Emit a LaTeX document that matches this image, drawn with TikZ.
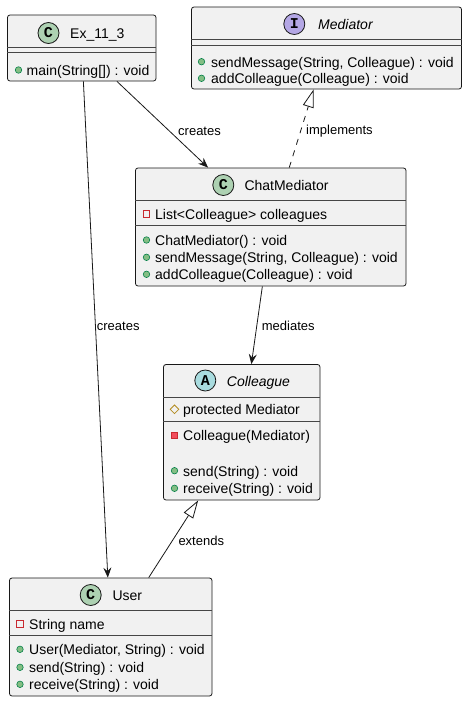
\documentclass[tikz,border=0pt]{standalone}
\usepackage{fontspec}
\setmainfont{Liberation Sans}
\newfontfamily\badgefont{Liberation Mono}
\usetikzlibrary{arrows.meta,positioning,calc,shapes.geometric}
\definecolor{boxfill}{HTML}{F1F1F1}
\definecolor{boxline}{HTML}{181818}
\definecolor{classicon}{HTML}{ADD1B2}
\definecolor{ifaceicon}{HTML}{B4A7E5}
\definecolor{absicon}{HTML}{A9DCDF}
\definecolor{pubfill}{HTML}{84BE84}
\definecolor{publine}{HTML}{038048}
\definecolor{privline}{HTML}{C82930}
\definecolor{privfill}{HTML}{F24D5C}
\definecolor{protline}{HTML}{B38D22}

\begin{document}
\begin{tikzpicture}[x=1pt,y=-1pt,font=\fontsize{14}{16}\selectfont,
  umlclass/.style={draw=boxline,fill=boxfill,rounded corners=2.5pt,line width=0.8pt,inner sep=0pt},
  sepline/.style={draw=boxline!80,line width=0.7pt},
  badge/.style={circle,draw=boxline,line width=0.8pt,minimum size=21pt,inner sep=0pt,font=\badgefont\bfseries\fontsize{15}{15}\selectfont},
  member/.style={anchor=west,inner sep=0pt,text height=12pt,text depth=1pt},
  abstractname/.style={member,font=\fontsize{14}{16}\selectfont\itshape},
  pub/.style={circle,draw=publine,fill=pubfill,minimum size=6.5pt,inner sep=0pt,line width=0.6pt},
  privfield/.style={rectangle,draw=privline,minimum size=6.5pt,inner sep=0pt,line width=0.8pt},
  privmeth/.style={rectangle,draw=privline,fill=privfill,minimum size=6.5pt,inner sep=0pt,line width=0.6pt},
  protfield/.style={diamond,draw=protline,minimum size=9pt,inner sep=0pt,line width=0.8pt},
  link/.style={draw=boxline,line width=0.8pt},
  lbl/.style={anchor=west,inner sep=0pt,text height=11pt,text depth=1pt,font=\fontsize{13}{15}\selectfont}]

  \fill[white] (0,0) rectangle (468,702);
  \useasboundingbox (0,0) rectangle (468,702);

  % class boxes
  \node[umlclass,minimum width=148.5pt,minimum height=66pt] (ex) at (81.75,48) {};
  \node[umlclass,minimum width=270pt,minimum height=82pt] (med) at (326.5,48) {};
  \node[umlclass,minimum width=270.5pt,minimum height=118pt] (chat) at (270.75,227) {};
  \node[umlclass,minimum width=156.5pt,minimum height=135.5pt] (coll) at (241.75,432.25) {};
  \node[umlclass,minimum width=202.5pt,minimum height=118pt] (user) at (110.75,637) {};

  \draw[sepline] (ex.west |- 0,47) -- (ex.east |- 0,47);
  \draw[sepline] (ex.west |- 0,52) -- (ex.east |- 0,52);
  \draw[sepline] (med.west |- 0,39) -- (med.east |- 0,39);
  \draw[sepline] (med.west |- 0,45) -- (med.east |- 0,45);
  \draw[sepline] (chat.west |- 0,200.5) -- (chat.east |- 0,200.5);
  \draw[sepline] (chat.west |- 0,225.5) -- (chat.east |- 0,225.5);
  \draw[sepline] (coll.west |- 0,397) -- (coll.east |- 0,397);
  \draw[sepline] (coll.west |- 0,421) -- (coll.east |- 0,421);
  \draw[sepline] (user.west |- 0,610.5) -- (user.east |- 0,610.5);
  \draw[sepline] (user.west |- 0,635.5) -- (user.east |- 0,635.5);

  % Ex_11_3
  \node[badge,fill=classicon] (exBadge) at (48.5,33) {C};
  \node[member] (exName) at (70,33) {Ex\_11\_3};
  \node[pub] (exPub1) at (18.5,70) {};
  \node[member] (exM1) at (26.5,70) {main(String[]) : void};

  % Mediator
  \node[badge,fill=ifaceicon] (medBadge) at (294.3,24) {I};
  \node[abstractname] (medName) at (318,24) {Mediator};
  \node[pub] (medPub1) at (201.5,61.7) {};
  \node[member] (medM1) at (211,61.7) {sendMessage(String, Colleague) : void};
  \node[pub] (medPub2) at (201.5,78.3) {};
  \node[member] (medM2) at (211,78.3) {addColleague(Colleague) : void};

  % ChatMediator
  \node[badge,fill=classicon] (chatBadge) at (223.3,185) {C};
  \node[member] (chatName) at (244.3,185) {ChatMediator};
  \node[privfield] (chatPriv1) at (146.5,214) {};
  \node[member] (chatF1) at (155,214) {List<Colleague> colleagues};
  \node[pub] (chatPub1) at (146.5,240) {};
  \node[member] (chatM1) at (155,240) {ChatMediator() : void};
  \node[pub] (chatPub2) at (146.5,257.3) {};
  \node[member] (chatM2) at (155,257.3) {sendMessage(String, Colleague) : void};
  \node[pub] (chatPub3) at (146.5,274.3) {};
  \node[member] (chatM3) at (155,274.3) {addColleague(Colleague) : void};

  % Colleague
  \node[badge,fill=absicon] (collBadge) at (205.3,380.5) {A};
  \node[abstractname] (collName) at (226.7,380.5) {Colleague};
  \node[protfield] (collProt1) at (174.5,409.3) {};
  \node[member] (collF1) at (183,409.3) {protected Mediator};
  \node[privmeth] (collPriv1) at (174.5,435.3) {};
  \node[member] (collM1) at (183,435.3) {Colleague(Mediator)};
  \node[pub] (collPub1) at (174.5,470.7) {};
  \node[member] (collM2) at (183,470.7) {send(String) : void};
  \node[pub] (collPub2) at (174.5,488.3) {};
  \node[member] (collM3) at (183,488.3) {receive(String) : void};

  % User
  \node[badge,fill=classicon] (userBadge) at (90.7,595) {C};
  \node[member] (userName) at (112.3,595) {User};
  \node[privfield] (userPriv1) at (20,624) {};
  \node[member] (userF1) at (29,624) {String name};
  \node[pub] (userPub1) at (20,649.3) {};
  \node[member] (userM1) at (29,649.3) {User(Mediator, String) : void};
  \node[pub] (userPub2) at (20,667.3) {};
  \node[member] (userM2) at (29,667.3) {send(String) : void};
  \node[pub] (userPub3) at (20,684.3) {};
  \node[member] (userM3) at (29,684.3) {receive(String) : void};

  % relations
  \draw[link,-{Stealth[length=10pt,width=8pt,inset=3.5pt]}] (ex) -- (chat);
  \draw[link,-{Stealth[length=10pt,width=8pt,inset=3.5pt]}] (ex) -- (user);
  \draw[link,dash pattern=on 6pt off 6pt,-{Triangle[open,length=18pt,width=11pt]}] (chat) -- (med);
  \draw[link,-{Stealth[length=10pt,width=8pt,inset=3.5pt]}] (chat) -- (coll);
  \draw[link,-{Triangle[open,length=18pt,width=11pt]}] (user) -- (coll);

  \node[lbl] (lblCreatesChat) at (178,130) {creates};
  \node[lbl] (lblCreatesUser) at (96.7,325.7) {creates};
  \node[lbl] (lblImplements) at (306,129) {implements};
  \node[lbl] (lblMediates) at (261.7,325) {mediates};
  \node[lbl] (lblExtends) at (178.3,540) {extends};
\end{tikzpicture}
\end{document}
